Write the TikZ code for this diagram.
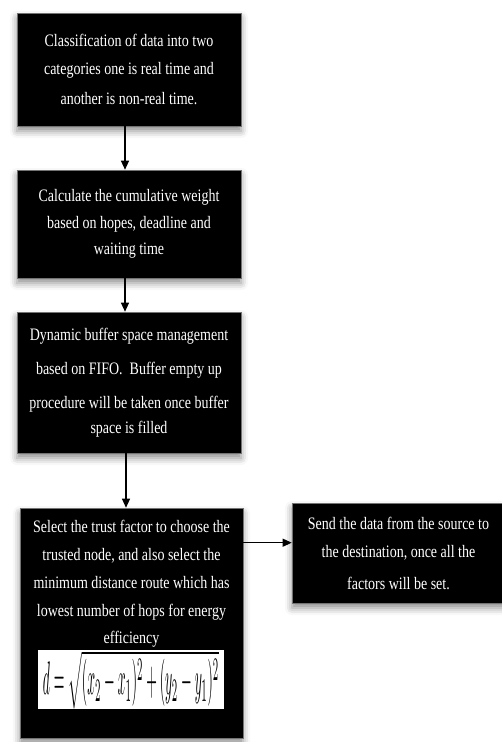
\documentclass[tikz,border=0pt]{standalone}
\usepackage{fontspec}
\setmainfont{Liberation Serif}[FakeStretch=0.8]
\usepackage{graphicx}
\usetikzlibrary{arrows.meta,shadows.blur}
\begin{document}
\begin{tikzpicture}[x=1pt,y=-1pt,
  box/.style={rectangle, fill=black, draw=black!55, line width=0.6pt,
    text=white, align=center, inner sep=0pt,
    blur shadow={shadow xshift=0pt, shadow yshift=-5pt, shadow blur radius=7pt, shadow opacity=45},
    font=\fontsize{17.5}{20}\selectfont},
  arr/.style={line width=1.1pt, -{Triangle[length=9pt,width=8pt]}}]
\useasboundingbox (0,0) rectangle (502,742);
\node[box, minimum width=224pt, minimum height=113pt] (b1) at (129,69.5)
  {Classification of data into two\\[8pt] categories one is real time and\\[10pt] another is non-real time.};
\node[box, minimum width=224pt, minimum height=108pt] (b2) at (129,224)
  {Calculate the cumulative weight\\[7pt] based on hopes, deadline and\\[6pt] waiting time};
\node[box, minimum width=224pt, minimum height=141pt] (b3) at (129,382.5)
  {Dynamic buffer space management\\[14pt] based on FIFO.\ \ Buffer empty up\\[14pt] procedure will be taken once buffer\\[5pt] space is filled};
\node[box, minimum width=223pt, minimum height=230pt] (b4) at (131.5,623) {};
\node[text=white, align=center, anchor=north, font=\fontsize{17.5}{20}\selectfont, inner sep=0pt] (t4) at (131.5,520)
  {Select the trust factor to choose the\\[8pt] trusted node, and also select the\\[8pt] minimum distance route which has\\[8pt] lowest number of hops for energy\\[7pt] efficiency};
\node[fill=white, minimum width=186pt, minimum height=53pt, inner sep=0pt] (f4) at (131,679.5)
  {\resizebox{176pt}{44pt}{$d=\sqrt{(x_2-x_1)^2+(y_2-y_1)^2}$}};
\node[box, minimum width=213pt, minimum height=100pt] (b5) at (398.5,553)
  {Send the data from the source to\\[8pt] the destination, once all the\\[12pt] factors will be set.};
\draw[arr] ([xshift=-4pt]b1.south) -- ([xshift=-4pt]b2.north);
\draw[arr] ([xshift=-4pt]b2.south) -- ([xshift=-4pt]b3.north);
\draw[arr] ([xshift=-3pt]b3.south) -- ([xshift=-5.5pt]b4.north);
\draw[arr] ([yshift=-35pt]b4.north east) -- ([yshift=-35pt]b4.north east -| b5.west);
\end{tikzpicture}
\end{document}
